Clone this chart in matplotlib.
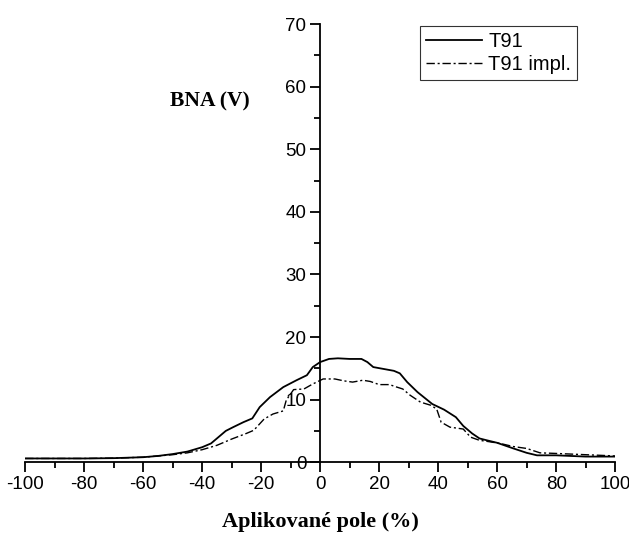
import matplotlib
matplotlib.use("Agg")
import matplotlib.pyplot as plt
from matplotlib.ticker import MultipleLocator

plt.rcParams["axes.unicode_minus"] = False

# Data
x_t91 = [-100, -80, -70, -60, -55, -50, -45, -40, -37, -35, -32, -29.5, -26, -23, -20.5, -17, -12.5,
         -8, -4.5, -2.5, 0, 3, 6, 10, 14, 16, 18, 21.5, 25, 27, 29.5, 33, 38, 42, 46, 48.5, 51.5,
         54, 56.5, 60, 65.5, 70, 73.5, 80, 90, 100]
y_t91 = [0.6, 0.6, 0.65, 0.8, 1.0, 1.3, 1.7, 2.4, 3.0, 3.8, 5.0, 5.6, 6.4, 7.0, 8.8, 10.4, 12.0,
         13.1, 13.9, 15.2, 16.0, 16.5, 16.6, 16.5, 16.5, 16.0, 15.2, 14.9, 14.6, 14.2, 12.8, 11.2, 9.3,
         8.4, 7.2, 5.8, 4.6, 3.8, 3.5, 3.1, 2.2, 1.5, 1.1, 1.1, 0.9, 0.9]

x_impl = [-100, -80, -70, -60, -55, -50, -45, -40, -35, -30, -25, -22.5, -19, -16, -12.5, -11.5, -9,
          -5.5, -2.5, 1, 5, 8, 11, 14.5, 17, 20, 23.5, 26, 28, 30.5, 34, 37.5, 39.5, 41, 44, 48.5,
          51, 54, 57, 61, 65.5, 70, 74.5, 80, 90, 100]
y_impl = [0.6, 0.6, 0.65, 0.8, 1.0, 1.2, 1.5, 2.0, 2.7, 3.7, 4.6, 5.1, 6.9, 7.7, 8.2, 9.9, 11.6,
          11.7, 12.5, 13.3, 13.3, 13.0, 12.8, 13.1, 12.9, 12.4, 12.4, 12.0, 11.7, 10.7, 9.6, 9.1, 8.5,
          6.4, 5.6, 5.3, 4.0, 3.5, 3.3, 3.0, 2.5, 2.2, 1.5, 1.4, 1.2, 1.0]

fig = plt.figure(figsize=(6.29, 5.47), dpi=100)
ax = fig.add_axes([0.040, 0.155, 0.938, 0.801])

ax.plot(x_t91, y_t91, color="black", lw=1.3, ls="-", label="T91")
ax.plot(x_impl, y_impl, color="black", lw=1.0, ls=(0, (6, 2, 1.5, 2)), label="T91 impl.")

ax.set_xlim(-100, 100)
ax.set_ylim(0, 70)

ax.spines["left"].set_position(("data", 0))
ax.spines["bottom"].set_position(("data", 0))
ax.spines["top"].set_visible(False)
ax.spines["right"].set_visible(False)
for s in ("left", "bottom"):
    ax.spines[s].set_linewidth(1.3)

ax.xaxis.set_major_locator(MultipleLocator(20))
ax.xaxis.set_minor_locator(MultipleLocator(10))
ax.yaxis.set_major_locator(MultipleLocator(10))
ax.yaxis.set_minor_locator(MultipleLocator(5))
ax.tick_params(axis="both", which="major", direction="out", length=7, width=1.3,
               labelsize=13.5, pad=3)
ax.tick_params(axis="both", which="minor", direction="out", length=4, width=1.3)
for lab in ax.get_xticklabels() + ax.get_yticklabels():
    lab.set_family("Liberation Sans")

leg = ax.legend(loc="upper right", bbox_to_anchor=(0.936, 0.996), frameon=True, fancybox=False,
                prop={"family": "Liberation Sans", "size": 14.5}, handlelength=2.8,
                borderpad=0.3, labelspacing=0.2, handletextpad=0.3, borderaxespad=0)
leg.get_frame().set_edgecolor("black")
leg.get_frame().set_linewidth(0.8)

fig.text(0.334, 0.815, "BNA (V)", ha="center", va="center", family="Liberation Serif",
         fontweight="bold", fontsize=15.5)
fig.text(0.509, 0.046, "Aplikované pole (%)", ha="center", va="center",
         family="Liberation Serif", fontweight="bold", fontsize=16)

fig.savefig("out.png", dpi=100)
